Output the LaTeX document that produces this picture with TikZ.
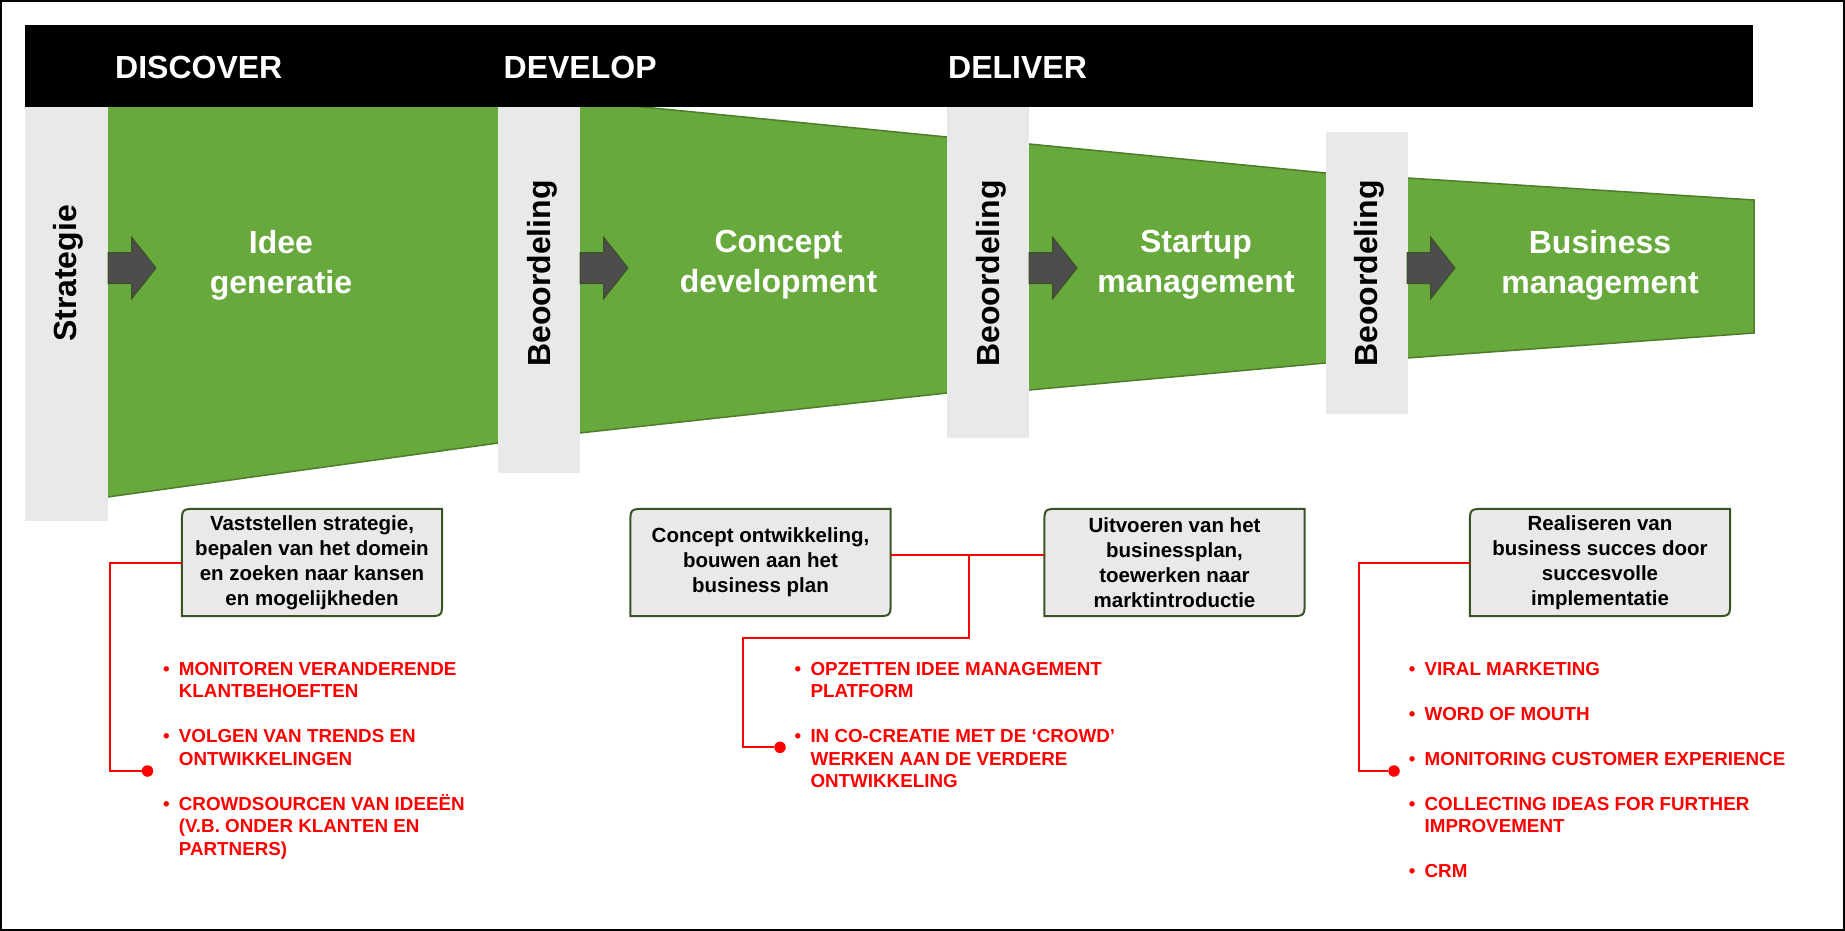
\documentclass[tikz,border=0pt]{standalone}
\usepackage{fontspec}
\setmainfont{Liberation Sans}
\usetikzlibrary{backgrounds}

\definecolor{funnel}{RGB}{103,169,61}
\definecolor{funneledge}{RGB}{79,124,43}
\definecolor{colgray}{RGB}{233,233,233}
\definecolor{boxgray}{RGB}{233,233,233}
\definecolor{boxedge}{RGB}{59,83,35}
\definecolor{arrowgray}{RGB}{77,77,77}
\definecolor{linered}{RGB}{255,0,0}

\newcommand{\itm}{\llap{\textbullet\hspace{9.25pt}}}
\newcommand{\noteframe}[1]{\draw[notebox] (#1.south west) -- ([yshift=-16pt]#1.north west)
  .. controls (#1.north west) .. ([xshift=16pt]#1.north west) -- (#1.north east)
  -- ([yshift=16pt]#1.south east) .. controls (#1.south east) .. ([xshift=-16pt]#1.south east) -- cycle;}

\begin{document}
\begin{tikzpicture}[x=1pt, y=-1pt,
    header/.style={text=white, font=\fontsize{32}{38}\selectfont\bfseries, anchor=base west, inner sep=0},
    phase/.style={text=white, font=\fontsize{32}{40}\selectfont\bfseries, align=center, inner sep=0},
    gate/.style={rotate=90, font=\fontsize{32}{38}\selectfont\bfseries, inner sep=0},
    seg/.style={fill=funnel, draw=funneledge, line width=1.5},
    col/.style={fill=colgray},
    note/.style={minimum width=260, minimum height=107, inner sep=0, align=center, font=\fontsize{20.5}{25}\selectfont\bfseries},
    notebox/.style={fill=boxgray, draw=boxedge, line width=2},
    todo/.style={text=linered, font=\fontsize{18.8}{22.5}\selectfont\bfseries, anchor=base west, inner sep=0},
    link/.style={draw=linered, line width=2},
    dot/.style={circle, fill=linered, minimum size=11.5, inner sep=0}]
  \useasboundingbox (0,0) rectangle (1845,931);

  % funnel
  \draw[seg] (104,95) -- (502,95) -- (502,442.5) -- (104,497.5) -- cycle;
  \draw[seg] (576,100.4) -- (951,137.4) -- (951,392.6) -- (576,433.4) -- cycle;
  \draw[seg] (1025,143.6) -- (1330,173.4) -- (1330,362.6) -- (1025,390.4) -- cycle;
  \draw[seg] (1403,177.7) -- (1754,200) -- (1754,333) -- (1403,358.3) -- cycle;

  % top bar
  \fill[black] (24.5,25) rectangle (1753,107.5);
  \node[header] (discover) at (115,79) {DISCOVER};
  \node[header] (develop) at (503.5,79) {DEVELOP};
  \node[header] (deliver) at (948,79) {DELIVER};

  % columns
  \fill[col] (25,107.5) rectangle (108,521);
  \fill[col] (498,107.5) rectangle (580,473);
  \fill[col] (947,107.5) rectangle (1029,438);
  \fill[col] (1326,132) rectangle (1408,414);
  \node[gate] (strategie) at (68,273.5) {Strategie};
  \node[gate] (gate1) at (542,273.5) {Beoordeling};
  \node[gate] (gate2) at (991,273.5) {Beoordeling};
  \node[gate] (gate3) at (1369.5,273.5) {Beoordeling};

  \foreach \x in {108,580,1029,1407}
    \draw[fill=arrowgray, draw=boxedge, line width=1] (\x,252.5) -- (\x+23.5,252.5) -- (\x+23.5,237)
      -- (\x+48,268) -- (\x+23.5,299) -- (\x+23.5,283.5) -- (\x,283.5) -- cycle;

  \node[phase] (idee) at (281,265) {Idee\\generatie};
  \node[phase] (concept) at (778.5,265) {Concept\\development};
  \node[phase] (startup) at (1196,265) {Startup\\management};
  \node[phase] (business) at (1600,265) {Business\\management};

  % notes
  \node[note] (v1) at (312,562.5) {Vaststellen strategie,\\bepalen van het domein\\en zoeken naar kansen\\en mogelijkheden};
  \node[note] (v2) at (760.5,562.5) {Concept ontwikkeling,\\bouwen aan het\\business plan};
  \node[note] (v3) at (1174.5,562.5) {Uitvoeren van het\\businessplan,\\toewerken naar\\marktintroductie};
  \node[note] (v4) at (1600,562.5) {Realiseren van\\business succes door\\succesvolle\\implementatie};
  \begin{scope}[on background layer]
    \noteframe{v1}
    \noteframe{v2}
    \noteframe{v3}
    \noteframe{v4}
  \end{scope}

  % connectors
  \node[dot] (d1) at (147.5,771) {};
  \node[dot] (d2) at (780,747.3) {};
  \node[dot] (d3) at (1394,771) {};
  \coordinate (j) at (968.5,554.5);
  \draw[link] (v1.west) -- ++(-71.5,0) |- (d1);
  \draw[link] ([yshift=8pt]v2.east) -- ([yshift=8pt]v3.west);
  \draw[link] (j) |- (742.5,638) |- (d2);
  \draw[link] (v4.west) -- ++(-111,0) |- (d3);

  % lists
  \node[todo] (l1) at (178.7,675) {\begin{tabular}[t]{@{}l@{}}
    \itm MONITOREN VERANDERENDE\\ KLANTBEHOEFTEN\\ \\
    \itm VOLGEN VAN TRENDS EN\\ ONTWIKKELINGEN\\ \\
    \itm CROWDSOURCEN VAN IDEEËN\\ (V.B. ONDER KLANTEN EN\\ PARTNERS)\end{tabular}};
  \node[todo] (l2) at (810.3,675) {\begin{tabular}[t]{@{}l@{}}
    \itm OPZETTEN IDEE MANAGEMENT\\ PLATFORM\\ \\
    \itm IN CO-CREATIE MET DE ‘CROWD’\\ WERKEN AAN DE VERDERE\\ ONTWIKKELING\end{tabular}};
  \node[todo] (l3) at (1424.4,675) {\begin{tabular}[t]{@{}l@{}}
    \itm VIRAL MARKETING\\ \\
    \itm WORD OF MOUTH\\ \\
    \itm MONITORING CUSTOMER EXPERIENCE\\ \\
    \itm COLLECTING IDEAS FOR FURTHER\\ IMPROVEMENT\\ \\
    \itm CRM\end{tabular}};

  \draw[line width=2] (1,1) rectangle (1844,930);
\end{tikzpicture}
\end{document}
